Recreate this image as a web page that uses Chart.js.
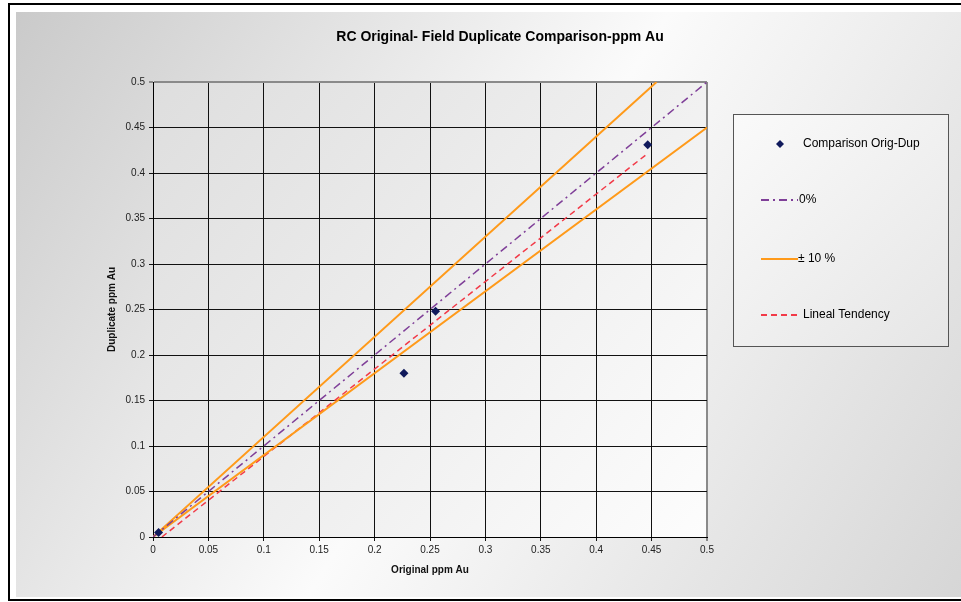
<!DOCTYPE html>
<html>
<head>
<meta charset="utf-8">
<title>RC Original- Field Duplicate Comparison-ppm Au</title>
<script src="https://cdn.jsdelivr.net/npm/chart.js@4.4.1/dist/chart.umd.min.js"></script>
<style>
  html, body { margin: 0; padding: 0; background: #fff; }
  #myChart { display: block; }
</style>
</head>
<body>
<canvas id="myChart" width="961" height="602"></canvas>
<script>
'use strict';

// samples
var origPpm = [0.005, 0.2265, 0.255, 0.4465];
var dupPpm = [0.005, 0.18, 0.248, 0.431];

// reference lines (end points)
var zeroX = [0, 0.5];
var zeroY = [0, 0.5];
var tenX = [0.4545, 0, 0.5]; // +10% down to origin, then -10%
var tenY = [0.5, 0, 0.45];
var trendX = [0.008, 0.447];
var trendY = [0, 0.422];

var tickLabels = ['0', '0.05', '0.1', '0.15', '0.2', '0.25', '0.3', '0.35', '0.4', '0.45', '0.5'];

var seriesNames = ['Comparison Orig-Dup', '0%', '\u00b1 10 %', 'Lineal Tendency'];
var chartTitle = 'RC Original- Field Duplicate Comparison-ppm Au';

var FONT = "'Liberation Sans', Arial, sans-serif";
Chart.defaults.font.family = FONT;

function toPoints(xs, ys) {
  var pts = [];
  for (var i = 0; i < xs.length; i++) {
    pts.push({x: xs[i], y: ys[i]});
  }
  return pts;
}

function gridColor(ctx) {
  return (ctx.tick && ctx.tick.value >= 0.4999) ? '#8a8a8a' : '#111';
}
function gridWidth(ctx) {
  return (ctx.tick && ctx.tick.value >= 0.4999) ? 2 : 1;
}
function tickText(v) {
  return tickLabels[Math.round(v / 0.05)];
}

// backgrounds, frame, title and the boxed legend
var decor = {
  id: 'decor',
  beforeDraw: function(chart) {
    var c = chart.ctx;
    var a = chart.chartArea;
    c.save();
    c.fillStyle = '#fff';
    c.fillRect(0, 0, chart.width, chart.height);

    var g = c.createLinearGradient(16, 12, 961, 597);
    g.addColorStop(0, '#cacaca');
    g.addColorStop(0.5, '#fbfbfb');
    g.addColorStop(1, '#d6d6d6');
    c.fillStyle = g;
    c.fillRect(16, 12, 945, 585);

    c.strokeStyle = '#000';
    c.lineWidth = 2;
    c.strokeRect(9, 4, 965, 596);

    var pg = c.createLinearGradient(a.left, a.top, a.right, a.bottom);
    pg.addColorStop(0, '#dedede');
    pg.addColorStop(1, '#fdfdfd');
    c.fillStyle = pg;
    c.fillRect(a.left, a.top, a.right - a.left, a.bottom - a.top);
    c.restore();
  },
  afterDraw: function(chart) {
    var c = chart.ctx;
    var ds = chart.data.datasets;
    c.save();

    c.fillStyle = '#000';
    c.font = 'bold 14px ' + FONT;
    c.textAlign = 'center';
    c.textBaseline = 'middle';
    c.fillText(chartTitle, 500, 37);

    // legend box
    var lg = c.createLinearGradient(733, 114, 948, 346);
    lg.addColorStop(0, '#fafafa');
    lg.addColorStop(1, '#e6e6e6');
    c.fillStyle = lg;
    c.fillRect(733, 114, 215, 232);
    c.strokeStyle = '#555';
    c.lineWidth = 1;
    c.strokeRect(733.5, 114.5, 215, 232);

    c.font = '12px ' + FONT;
    c.textAlign = 'left';

    // diamond
    c.fillStyle = ds[0].backgroundColor;
    c.beginPath();
    c.moveTo(780, 140); c.lineTo(784, 144); c.lineTo(780, 148); c.lineTo(776, 144);
    c.closePath();
    c.fill();
    c.fillStyle = '#000';
    c.fillText(seriesNames[0], 803, 144);

    var rows = [[1, 200, 799], [2, 259, 798], [3, 315, 803]];
    for (var i = 0; i < rows.length; i++) {
      var d = ds[rows[i][0]];
      c.strokeStyle = d.borderColor;
      c.lineWidth = 2;
      c.setLineDash(d.borderDash || []);
      c.beginPath();
      c.moveTo(761, rows[i][1]);
      c.lineTo(798, rows[i][1]);
      c.stroke();
      c.setLineDash([]);
      c.fillText(seriesNames[rows[i][0]], rows[i][2], rows[i][1]);
    }
    c.restore();
  }
};

var ctx = document.getElementById('myChart');

var myChart = new Chart(ctx, {
  type: 'scatter',
  data: {
    datasets: [{
      label: seriesNames[0],
      data: toPoints(origPpm, dupPpm),
      pointStyle: 'rectRot',
      pointRadius: 4.5,
      backgroundColor: '#101a5c',
      borderColor: '#101a5c',
      borderWidth: 0,
      showLine: false
    }, {
      label: seriesNames[1],
      data: toPoints(zeroX, zeroY),
      showLine: true,
      pointRadius: 0,
      borderColor: '#7f3f98',
      borderWidth: 1.5,
      borderDash: [8, 4, 2, 4]
    }, {
      label: seriesNames[2],
      data: toPoints(tenX, tenY),
      showLine: true,
      pointRadius: 0,
      borderColor: '#ff9a1a',
      borderWidth: 2
    }, {
      label: seriesNames[3],
      data: toPoints(trendX, trendY),
      showLine: true,
      pointRadius: 0,
      borderColor: '#f23a48',
      borderWidth: 1.5,
      borderDash: [6, 4]
    }]
  },
  plugins: [decor],
  options: {
    responsive: false,
    animation: false,
    layout: {
      padding: {left: 0, top: 82, right: 254, bottom: 0}
    },
    plugins: {
      legend: {display: false},
      title: {display: false},
      tooltip: {enabled: false}
    },
    scales: {
      x: {
        type: 'linear',
        min: 0,
        max: 0.5,
        ticks: {stepSize: 0.05, padding: 3, color: '#222', font: {size: 10}, callback: tickText},
        grid: {color: gridColor, lineWidth: gridWidth, tickLength: 4},
        border: {color: '#000', width: 1},
        title: {
          display: true,
          text: 'Original ppm Au',
          color: '#111',
          font: {size: 10, weight: 'bold'},
          padding: {top: 0, bottom: 26}
        },
        afterFit: function(scale) { scale.height = 65; }
      },
      y: {
        type: 'linear',
        min: 0,
        max: 0.5,
        ticks: {stepSize: 0.05, padding: 4, color: '#222', font: {size: 10}, callback: tickText},
        grid: {color: gridColor, lineWidth: gridWidth, tickLength: 4},
        border: {color: '#000', width: 1},
        title: {
          display: true,
          text: 'Duplicate ppm Au',
          color: '#111',
          font: {size: 10, weight: 'bold'},
          padding: {top: 106, bottom: 0}
        },
        afterFit: function(scale) { scale.width = 153; }
      }
    }
  }
});
</script>
</body>
</html>
